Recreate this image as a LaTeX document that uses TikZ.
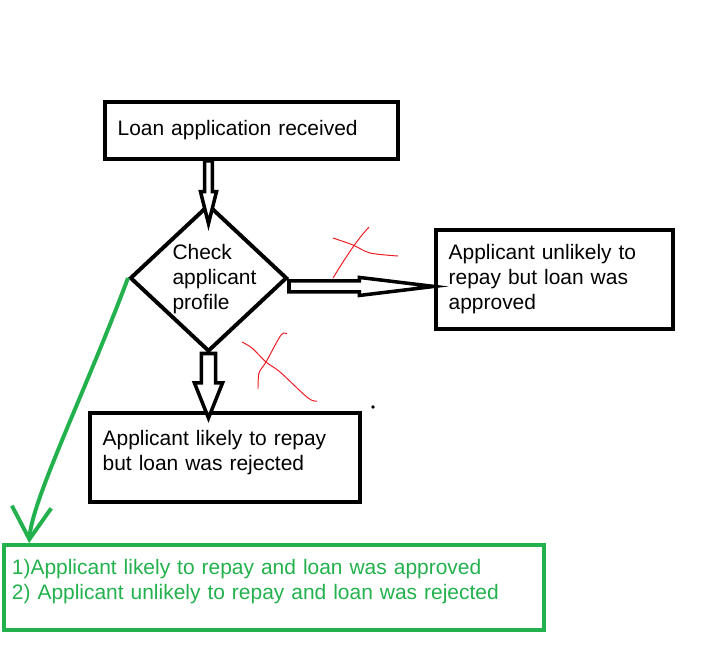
\documentclass[tikz,border=0pt]{standalone}
\usepackage{fontspec}
\setmainfont{Liberation Sans}
\usetikzlibrary{shapes,calc,arrows.meta}
\definecolor{paintgreen}{RGB}{34,177,76}
\definecolor{paintred}{RGB}{237,28,36}
\tikzset{
  fatarrow/.style n args={3}{draw, line width=2.5pt, line join=miter, fill=white,
    to path={let \p1=(\tikztostart), \p2=(\tikztotarget),
      \n1={atan2(\y2-\y1,\x2-\x1)}, \n2={veclen(\x2-\x1,\y2-\y1)-#3} in
      ($(\p1)+(\n1+90:#1)$) -- ($(\p1)+(\n1:\n2)+(\n1+90:#1)$)
      -- ($(\p1)+(\n1:\n2)+(\n1+90:#2)$) -- (\p2)
      -- ($(\p1)+(\n1:\n2)+(\n1-90:#2)$) -- ($(\p1)+(\n1:\n2)+(\n1-90:#1)$)
      -- ($(\p1)+(\n1-90:#1)$) -- cycle}}
}

\begin{document}
\begin{tikzpicture}
  [x=0.025cm,y=-0.025cm,
   every node/.style={font=\fontsize{14.9}{17.8}\selectfont, line width=2.8pt, align=left},
   box/.style={draw, rectangle, inner xsep=9pt, inner ysep=0pt}]
  \useasboundingbox (0,0) rectangle (703,647);

  \node[box, minimum width=7.325cm, minimum height=1.425cm, text width=6.69cm] (recv) at (251.5,130.5) {Loan application received};
  \node[draw, diamond, minimum width=3.925cm, minimum height=3.675cm, inner sep=0pt] (chk) at (208.5,278) {};
  \node (chkt) at (214.5,279) {Check\\applicant\\profile};
  \node[box, minimum width=5.925cm, minimum height=2.475cm, text width=5.29cm] (appr) at (554.5,279.5) {Applicant unlikely to\\repay but loan was\\approved};
  \node[box, minimum width=6.75cm, minimum height=2.225cm, text width=6.115cm, text depth=27.4pt] (rej) at (225,457.5) {Applicant likely to repay\\but loan was rejected};
  \node[box, draw=paintgreen, text=paintgreen, inner xsep=5.7pt, minimum width=13.5cm, minimum height=2.125cm, text width=13.1cm, text depth=29.6pt] (note) at (274,587.5) {1)Applicant likely to repay and loan was approved\\2) Applicant unlikely to repay and loan was rejected};

  \coordinate (s1) at (recv.south -| chk.north);
  \coordinate (t1) at ([yshift=-15pt]chk.north);
  \coordinate (s2) at ([yshift=-6pt]chk.east);
  \coordinate (t2) at (s2 -| appr.west);
  \coordinate (s3) at (chk.south);
  \coordinate (t3) at ($(chk.south |- rej.north)+(0,7)$);
  \foreach \from/\to/\sw/\hw/\hl in {s1/t1/2.8pt/5.7pt/22.8pt, s2/t2/3.9pt/6.4pt/53pt, s3/t3/5pt/10pt/25pt}
    \draw[fatarrow={\sw}{\hw}{\hl}] (\from) to (\to);

  \coordinate (g1) at ($(note.north west)!0.05!(note.north east)$);
  \draw[paintgreen, line width=2.8pt, -{Straight Barb[length=23pt,width=28pt]}] (chk.west) .. controls (84,395) and (32,500) .. (g1);

  % red crosses
  \draw[paintred, line width=0.7pt] plot[smooth] coordinates {(333,278) (343,262) (353,247) (362,235) (369,227)};
  \draw[paintred, line width=0.7pt] plot[smooth] coordinates {(333,238) (353,245) (370,253) (398,256)};
  \draw[paintred, line width=0.7pt] plot[smooth] coordinates {(242,342) (252,348) (266,362) (280,372) (308,398) (317,401)};
  \draw[paintred, line width=0.7pt] plot[smooth] coordinates {(258,389) (259,373) (266,362) (281,335) (287,334)};
  \fill (373,407) circle (1.4pt);
\end{tikzpicture}
\end{document}
